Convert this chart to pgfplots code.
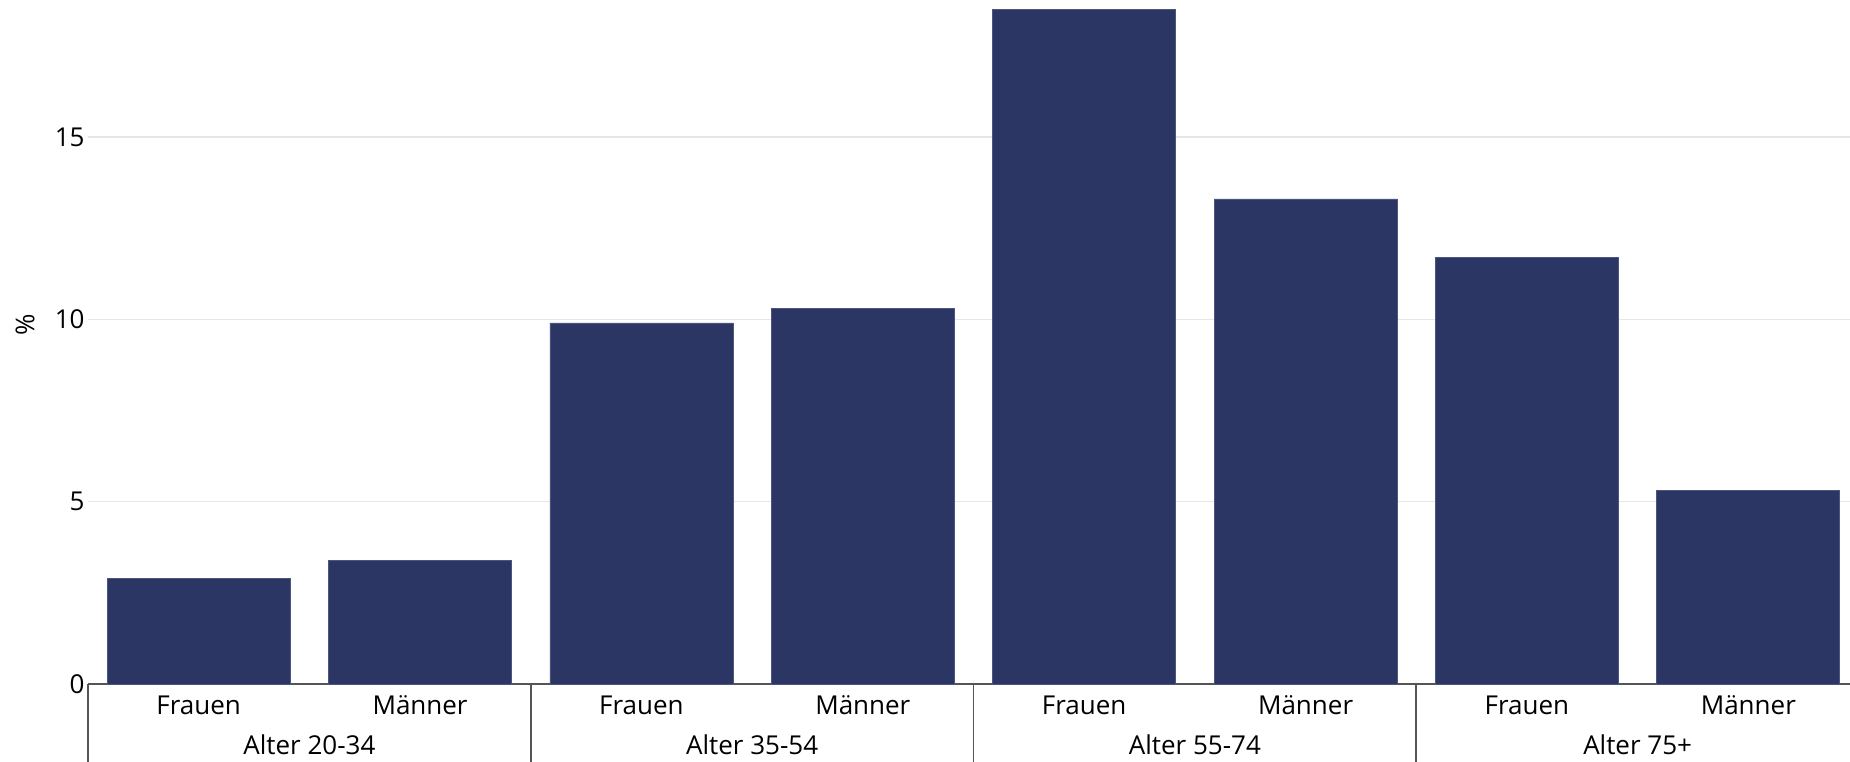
\documentclass[border=0pt]{standalone}
\usepackage{fontspec}
\setmainfont{Open Sans}
\usepackage{pgfplots}
\pgfplotsset{compat=1.18}
\definecolor{barblue}{RGB}{43,54,100}
\definecolor{baredge}{RGB}{75,85,125}
\definecolor{axgray}{RGB}{85,85,85}
\definecolor{gridgray}{RGB}{230,230,230}
\begin{document}
\begin{tikzpicture}
\useasboundingbox (-44pt,-38.5pt) rectangle (881pt,342pt);
\begin{axis}[
  at={(0,0)}, anchor=south west,
  scale only axis, width=885.5pt, height=341pt,
  xmin=-0.5, xmax=7.5, ymin=0, ymax=18.7,
  axis line style={draw=none},
  ytick={5,10,15},
  extra y ticks={0},
  extra y tick style={major grid style={draw=axgray, line width=1pt}},
  ymajorgrids,
  major grid style={draw=gridgray, line width=0.6pt},
  xtick={0,1,2,3,4,5,6,7},
  xticklabels={Frauen,Männer,Frauen,Männer,Frauen,Männer,Frauen,Männer},
  major tick length=0pt,
  tick style={draw=none},
  /pgf/number format/assume math mode=true,
  ticklabel style={font=\fontsize{13}{15}\selectfont},
  yticklabel style={anchor=east, inner sep=0pt, xshift=-1.5pt},
  xticklabel style={anchor=base, inner sep=0pt, yshift=-15pt},
  clip=false,
]
\addplot[ybar, bar width=0.827, bar shift=0pt, fill=barblue, draw=baredge, line width=0.4pt]
  coordinates {(0,2.9) (1,3.4) (2,9.9) (3,10.3) (4,18.5) (5,13.3) (6,11.7) (7,5.3)};
\draw[axgray, line width=0.9pt] (axis cs:-0.5,0) -- ++(0pt,-45pt);
\draw[axgray, line width=0.9pt] (axis cs:1.5,0) -- ++(0pt,-45pt);
\draw[axgray, line width=0.9pt] (axis cs:3.5,0) -- ++(0pt,-45pt);
\draw[axgray, line width=0.9pt] (axis cs:5.5,0) -- ++(0pt,-45pt);
\node[anchor=base, font=\fontsize{13}{15}\selectfont, yshift=-35pt] at (axis cs:0.5,0) {Alter 20-34};
\node[anchor=base, font=\fontsize{13}{15}\selectfont, yshift=-35pt] at (axis cs:2.5,0) {Alter 35-54};
\node[anchor=base, font=\fontsize{13}{15}\selectfont, yshift=-35pt] at (axis cs:4.5,0) {Alter 55-74};
\node[anchor=base, font=\fontsize{13}{15}\selectfont, yshift=-35pt] at (axis cs:6.5,0) {Alter 75+};
\node[rotate=90, font=\fontsize{13}{15}\selectfont] at ([xshift=-31.5pt]axis cs:-0.5,9.84) {\%};
\end{axis}
\end{tikzpicture}
\end{document}
